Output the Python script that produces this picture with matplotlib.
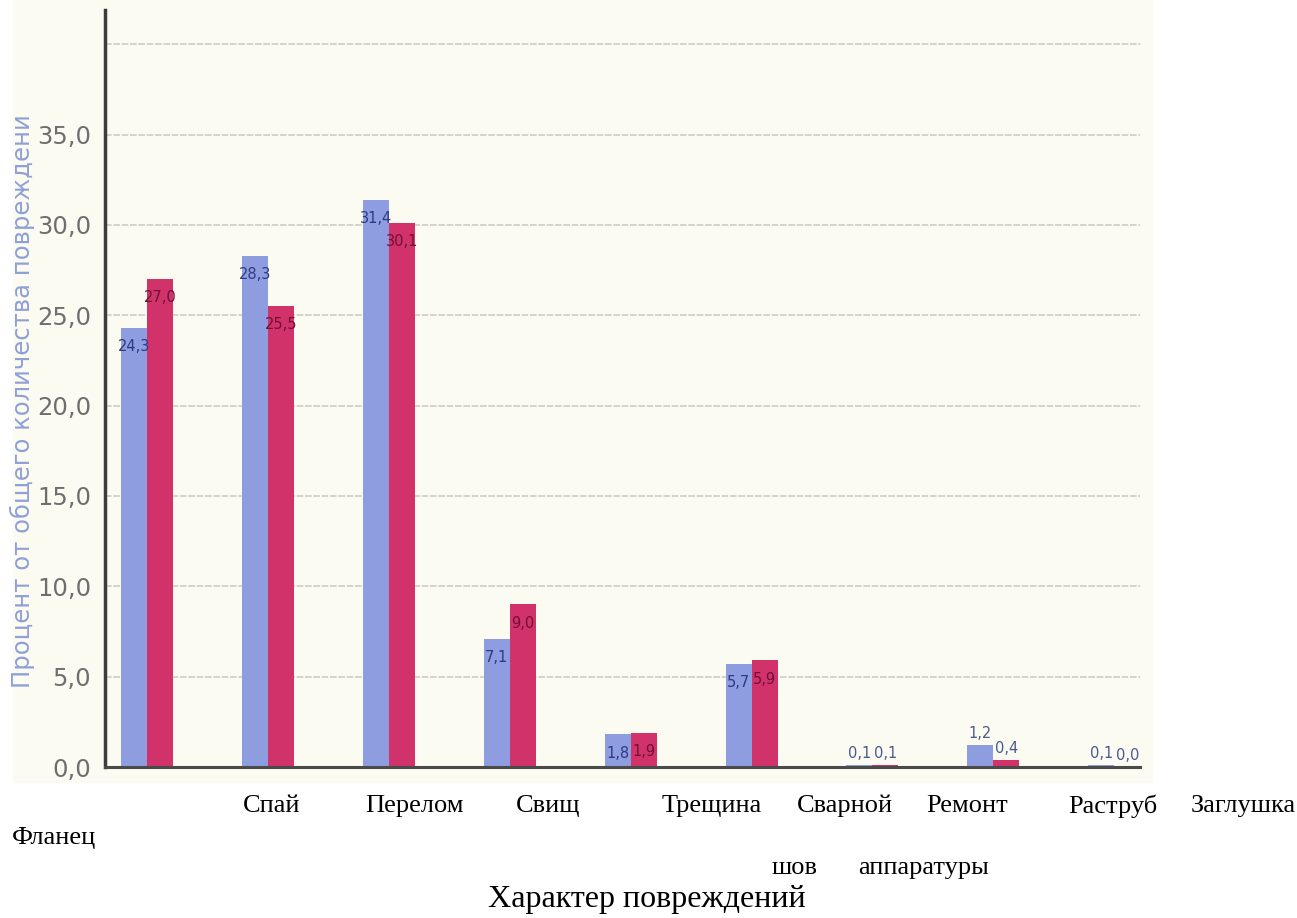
import matplotlib.pyplot as plt
from matplotlib.patches import Rectangle

# damage types, two series of percentages
categories = ["Фланец", "Спай", "Перелом", "Свищ", "Трещина",
              "Сварной шов", "Ремонт аппаратуры", "Раструб", "Заглушка"]
series_a = [24.3, 28.3, 31.4, 7.1, 1.8, 5.7, 0.1, 1.2, 0.1]
series_b = [27.0, 25.5, 30.1, 9.0, 1.9, 5.9, 0.1, 0.4, 0.0]
y_ticks = [0, 5, 10, 15, 20, 25, 30, 35, 40]
y_tick_labels = ["0,0", "5,0", "10,0", "15,0", "20,0", "25,0", "30,0", "35,0", ""]

# category captions sit under the chart as loose text, (text, x px, y px)
captions = [("Спай", 272, 806), ("Перелом", 414, 806), ("Свищ", 548, 806),
            ("Трещина", 712, 806), ("Сварной", 845, 806), ("Ремонт", 967, 806),
            ("Раструб", 1113, 806), ("Заглушка", 1243, 806),
            ("Фланец", 54, 838), ("шов", 795, 868), ("аппаратуры", 924, 868)]

W, H = 1297, 918
BLUE = "#8d9de0"
RED = "#d2326a"

fig = plt.figure(figsize=(W / 100, H / 100), dpi=100)
fig.patch.set_facecolor("white")
# scanned page tint behind the chart
fig.patches.append(Rectangle((13 / W, 1 - 782 / H), (1152 - 13) / W, 782 / H,
                             transform=fig.transFigure, color="#fbfbf1", zorder=-1))

ax = fig.add_axes([105 / W, 1 - 767 / H, (1140 - 105) / W, (767 - 10) / H])
ax.set_facecolor("none")

x = list(range(len(categories)))
bw = 0.215
bars_a = ax.bar([i - bw / 2 for i in x], series_a, width=bw, color=BLUE, zorder=3)
bars_b = ax.bar([i + bw / 2 for i in x], series_b, width=bw, color=RED, zorder=3)

def fmt(v):
    return f"{v:.1f}".replace(".", ",")

for bars, vals, inner in ((bars_a, series_a, "#2c3a86"), (bars_b, series_b, "#6e1236")):
    for b, v in zip(bars, vals):
        cx = b.get_x() + b.get_width() / 2
        if v >= 1.5:
            ax.annotate(fmt(v), (cx, v), xytext=(0, -8), textcoords="offset points",
                        ha="center", va="top", fontsize=10.5, color=inner, zorder=4)
        else:
            ax.annotate(fmt(v), (cx, v), xytext=(0, 3), textcoords="offset points",
                        ha="center", va="bottom", fontsize=10.5,
                        color="#4a5a90", zorder=4)

ax.set_xlim(-0.347, 8.213)
ax.set_ylim(0, 41.9)
ax.set_yticks(y_ticks)
ax.set_yticklabels(y_tick_labels, fontsize=17.5, color="#6e6e6e", family="DejaVu Sans")
ax.set_xticks([])
ax.tick_params(axis="y", length=0, pad=10)
ax.grid(axis="y", color="#cdcdc4", linewidth=1.2, linestyle=(0, (4, 1)), zorder=1)

for s in ("top", "right"):
    ax.spines[s].set_visible(False)
ax.spines["left"].set_color("#3c3c3c")
ax.spines["left"].set_linewidth(2.5)
ax.spines["bottom"].set_color("#4a4a4a")
ax.spines["bottom"].set_linewidth(2.2)
ax.spines["bottom"].set_zorder(5)
# short tick crossing the axis at zero
ax.plot([-0.07, 0.0], [0, 0], color="#3c3c3c", lw=2, clip_on=False)

fig.text(22 / W, 1 - 401 / H, "Процент от общего количества повреждени",
         rotation=90, ha="center", va="center", fontsize=17.5, color="#8fa0d8")

for text, px, py in captions:
    fig.text(px / W, 1 - py / H, text, ha="center", va="center",
             fontsize=19, family="Liberation Serif", color="black")
fig.text(647 / W, 1 - 899 / H, "Характер повреждений", ha="center", va="center",
         fontsize=23, family="Liberation Serif", color="black")

fig.savefig("out.png", dpi=100)
